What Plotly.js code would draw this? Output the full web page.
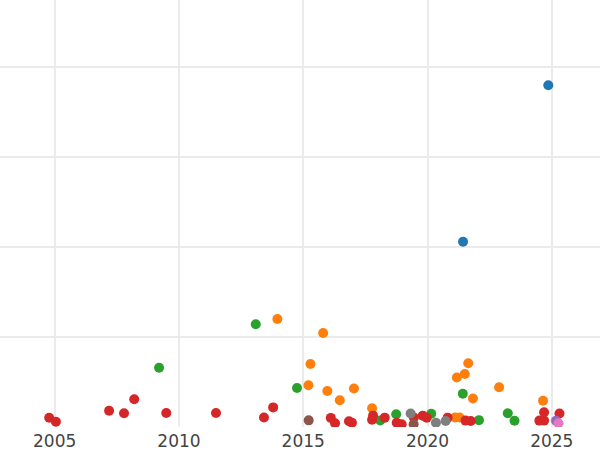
<!DOCTYPE html>
<html>
<head>
<meta charset="utf-8">
<script src="https://cdn.plot.ly/plotly-3.0.1.min.js"></script>
<style>html,body{margin:0;padding:0;background:#fff;}#chart{width:600px;height:450px;}</style>
</head>
<body>
<div id="chart"></div>
<script>
// Series: year (decimal) and value
const blueX = [2021.43, 2024.86];
const blueY = [20.59, 37.97];

const orangeX = [2013.96, 2015.80, 2015.29, 2015.21, 2015.97, 2016.47, 2017.04, 2017.77, 2021.11, 2021.29, 2021.18, 2021.50, 2021.64, 2021.83, 2022.88, 2024.65];
const orangeY = [12.0, 10.44, 7.0, 4.63, 4.0, 2.98, 4.28, 2.08, 1.06, 1.06, 5.5, 5.89, 7.08, 3.17, 4.42, 2.92];

const greenX = [2009.20, 2013.09, 2014.75, 2018.10, 2018.74, 2020.15, 2021.42, 2022.07, 2023.23, 2023.50];
const greenY = [6.59, 11.41, 4.33, 0.72, 1.42, 1.47, 3.69, 0.76, 1.52, 0.69];

const redX = [2004.78, 2005.05, 2007.19, 2007.79, 2008.20, 2009.49, 2011.49, 2013.42, 2013.79, 2016.11, 2016.28, 2016.84, 2016.96, 2017.77, 2017.81, 2018.28, 2018.76, 2018.96, 2019.45, 2019.81, 2019.97, 2020.81, 2021.53, 2021.74, 2024.50, 2024.69, 2024.69, 2025.31];
const redY = [1.03, 0.59, 1.81, 1.52, 3.08, 1.56, 1.56, 1.06, 2.18, 1.01, 0.42, 0.63, 0.48, 0.81, 1.26, 1.04, 0.47, 0.30, 1.06, 1.26, 1.02, 1.04, 0.71, 0.66, 0.71, 0.71, 1.64, 1.50];

const purpleX = [2025.17];
const purpleY = [0.70];

const brownX = [2015.22, 2019.44];
const brownY = [0.74, 0.30];

const pinkX = [2025.27];
const pinkY = [0.41];

const grayX = [2019.32, 2020.34, 2020.73];
const grayY = [1.50, 0.48, 0.66];

const xTicks = [2005, 2010, 2015, 2020, 2025];
const xTickText = ['2005', '2010', '2015', '2020', '2025'];

const series = [
  [blueX, blueY, '#1f77b4'],
  [orangeX, orangeY, '#ff7f0e'],
  [greenX, greenY, '#2ca02c'],
  [redX, redY, '#d62728'],
  [purpleX, purpleY, '#9467bd'],
  [brownX, brownY, '#8c564b'],
  [pinkX, pinkY, '#e377c2'],
  [grayX, grayY, '#7f7f7f']
];

const data = series.map(s => ({
  type: 'scatter', mode: 'markers', x: s[0], y: s[1],
  marker: {color: s[2], size: 10, line: {width: 0}},
  showlegend: false, hoverinfo: 'none'
}));

const layout = {
  width: 600, height: 450,
  margin: {l: 0, r: 0, t: 0, b: 23, pad: 0},
  paper_bgcolor: '#fff', plot_bgcolor: '#fff',
  showlegend: false,
  font: {family: 'DejaVu Sans', size: 17, color: '#444'},
  xaxis: {
    range: [2002.80, 2026.94], tickmode: 'array', tickvals: xTicks, ticktext: xTickText,
    showgrid: true, gridcolor: '#ebebeb', gridwidth: 2, zeroline: false, showline: false,
    ticks: '', automargin: false, ticklabelstandoff: 2,
    tickfont: {family: 'DejaVu Sans', size: 17, color: '#444'}
  },
  yaxis: {
    range: [0, 47.44], tickmode: 'linear', tick0: 0, dtick: 10,
    showgrid: true, gridcolor: '#ebebeb', gridwidth: 2, zeroline: false, showline: false,
    showticklabels: false, ticks: '', automargin: false
  }
};

Plotly.newPlot('chart', data, layout, {staticPlot: true, displayModeBar: false});
</script>
</body>
</html>
